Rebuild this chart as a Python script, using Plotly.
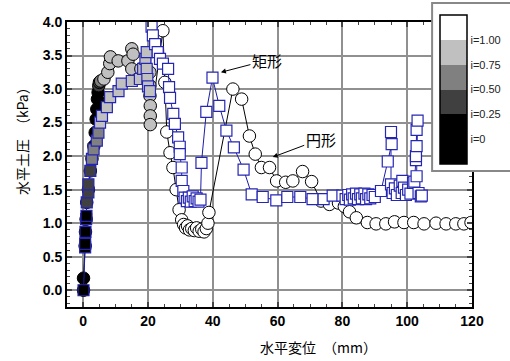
import plotly.graph_objects as go

# ---- 円形 (circle) series: x [mm], y [kPa], i (hydraulic gradient class) ----
circ_x = [0.1, 0.1, 0.6, 0.7, 0.9, 1.1, 1.6, 2.2, 2.7, 3.3, 3.7, 4.0, 4.2, 4.4, 4.6,
          4.8, 5.0,
          5.4,
          6.4, 7.6, 8.2, 8.4, 10.8, 13.8, 15.0, 15.4, 15.0, 17.8, 20.6, 20.6, 20.6,
          20.7, 20.7, 20.7,
          24.6, 25.2, 25.8, 26.8, 27.7, 28.7, 29.6, 30.4, 31.0, 31.6, 32.2, 32.8,
          33.5, 34.3, 35.0, 35.8, 36.6, 37.3, 38.0, 38.5, 38.8,
          46.2, 48.9, 51.3, 53.1, 55.0, 57.5, 59.7, 62.5, 64.7, 67.7, 70.5, 73.4,
          76.0, 78.8, 80.6, 82.2, 84.3, 87.7, 90.4, 93.4, 96.1, 99.0, 102.0, 105.2,
          108.9, 112.0, 115.0, 117.5, 119.7]
circ_y = [0.00, 0.18, 0.66, 0.87, 1.06, 1.31, 1.50, 1.78, 1.96, 2.15, 2.35, 2.55,
          2.70, 2.85, 2.95,
          3.05, 3.10,
          3.12,
          3.15, 3.25, 3.38, 3.48, 3.42, 3.42, 3.60, 3.52, 3.30, 3.30, 3.25, 3.05,
          2.90, 2.75, 2.60, 2.47,
          3.87, 3.10, 2.36, 2.05, 1.83, 1.50, 1.20, 1.05, 0.98, 0.93, 0.96, 0.90,
          0.92, 0.89, 0.93, 0.88, 0.91, 0.87, 0.92, 1.00, 1.16,
          3.00, 2.85, 2.30, 2.03, 1.83, 1.83, 1.63, 1.61, 1.63, 1.77, 1.62, 1.33,
          1.28, 1.30, 1.25, 1.17, 1.08, 1.01, 0.99, 0.99, 1.02, 1.01, 1.01, 0.99,
          1.00, 0.99, 0.99, 0.99, 1.01]
circ_i = [0.1] * 15 + [0.4] * 2 + [0.6] * 1 + [0.9] * 16 + [1.1] * 50

# ---- 矩形 (square) series ----
sq_x = [0.1, 0.6, 0.6, 0.7, 0.9, 1.0, 1.1, 1.6, 1.6, 2.2, 2.7, 3.2, 4.2, 4.7,
        5.2, 5.8, 7.3, 8.3, 10.9, 11.9, 15.0, 17.5, 18.5, 19.2, 19.6, 19.6, 19.8,
        20.0, 20.6, 21.1, 21.5, 22.2, 23.0, 23.7, 24.6, 26.2, 26.5, 26.8, 27.8,
        28.3, 29.3, 29.8, 29.8, 30.4, 30.4, 30.9, 31.3, 32.0, 32.6, 33.2, 33.8,
        34.4, 35.0, 35.6, 36.2, 36.5, 38.0, 39.9, 42.0, 44.2, 46.5, 49.5, 52.0,
        55.4, 59.6, 63.0, 67.0, 70.8, 74.2, 77.0, 80.0, 81.0, 81.8, 82.3, 83.0,
        83.5, 84.2, 84.8, 85.5, 86.0, 86.8, 87.3, 88.0, 88.6, 89.3, 90.0, 91.9,
        94.0, 95.2, 95.0, 95.0, 95.5, 96.2, 96.8, 97.7, 98.3, 98.5, 99.0, 99.6,
        100.3, 101.0, 101.8, 102.2, 102.7, 102.7, 102.9, 102.9, 103.2, 102.9,
        103.5, 104.2, 104.5]
sq_y = [0.00, 0.64, 0.69, 0.87, 1.06, 1.11, 1.31, 1.46, 1.58, 1.78, 1.96, 2.10,
        2.23, 2.35, 2.50, 2.60, 2.73, 2.88, 2.97, 3.08, 3.12, 3.15, 3.30, 3.45,
        3.55, 3.30, 3.15, 3.04, 2.97, 3.93, 3.80, 3.67, 3.55, 3.45, 3.38, 3.30,
        3.03, 2.87, 2.63, 2.48, 2.28, 2.14, 2.03, 1.83, 1.63, 1.48, 1.38, 1.33,
        1.38, 1.32, 1.40, 1.33, 1.37, 1.32, 1.35, 1.90, 2.66, 3.17, 2.75, 2.38,
        2.13, 1.80, 1.43, 1.39, 1.34, 1.39, 1.39, 1.36, 1.36, 1.41, 1.41, 1.36,
        1.42, 1.35, 1.43, 1.37, 1.44, 1.36, 1.43, 1.37, 1.44, 1.36, 1.43, 1.37,
        1.42, 1.39, 1.48, 1.92, 2.18, 2.36, 1.58, 1.45, 1.52, 1.42, 1.56, 1.45,
        1.63, 1.53, 1.42, 1.50, 1.44, 1.60, 1.62, 1.94, 2.00, 2.15, 2.39, 2.53,
        1.70, 1.45, 1.40, 1.41]
sq_i = [0.1] * 6 + [0.4] * 4 + [0.6] * 4 + [0.9] * 15 + [1.1] * 83

# ---- legend (colour classes) ----
cls_vals = [1.0, 0.75, 0.5, 0.25, 0.0]
cls_text = ["i=1.00", "i=0.75", "i=0.50", "i=0.25", "i=0"]

x_ticks = [0, 20, 40, 60, 80, 100, 120]
y_ticks = [0.0, 0.5, 1.0, 1.5, 2.0, 2.5, 3.0, 3.5, 4.0]

W, H = 510, 361
L, R, T, B = 67, 37, 22, 54
pw, ph = W - L - R, H - T - B


def px(xp):
    return (xp - L) / pw


def py(yp):
    return (H - B - yp) / ph


cscale = [[0.0, "#000000"], [1 / 3, "#000000"], [1 / 3, "#404040"], [0.5, "#404040"],
          [0.5, "#808080"], [2 / 3, "#808080"], [2 / 3, "#c0c0c0"], [5 / 6, "#c0c0c0"],
          [5 / 6, "#ffffff"], [1.0, "#ffffff"]]

fig = go.Figure()
fig.add_trace(go.Scatter(
    x=circ_x, y=circ_y, mode="lines+markers", name="円形",
    line=dict(color="black", width=1),
    marker=dict(symbol="circle", size=12.5, color=circ_i, coloraxis="coloraxis",
                line=dict(color="black", width=1)),
    showlegend=False))
fig.add_trace(go.Scatter(
    x=sq_x, y=sq_y, mode="lines+markers", name="矩形",
    line=dict(color="#1c1ca8", width=1),
    marker=dict(symbol="square", size=11, color=sq_i, coloraxis="coloraxis",
                line=dict(color="#2626b4", width=1.2)),
    showlegend=False))

tickfont = dict(family="Liberation Sans, Arial", size=14, color="black", weight="bold")
fig.update_xaxes(range=[-5, 120], tickvals=x_ticks, ticks="inside", ticklen=5, tickwidth=1.5,
                 minor=dict(dtick=5, ticks="inside", ticklen=3, tickwidth=1.2, showgrid=False),
                 showline=True, linecolor="black", linewidth=2, mirror="ticks",
                 showgrid=True, gridcolor="#909090", gridwidth=1.5, zeroline=False,
                 tickfont=tickfont)
fig.update_yaxes(range=[-0.25, 4.0], tickvals=y_ticks, tickformat=".1f", ticks="inside",
                 ticklen=5, tickwidth=1.5,
                 minor=dict(dtick=0.1, ticks="inside", ticklen=3, tickwidth=1.2, showgrid=False),
                 showline=True, linecolor="black", linewidth=2, mirror="ticks",
                 showgrid=True, gridcolor="#909090", gridwidth=1.5, zeroline=False,
                 tickfont=tickfont)

jp = "Noto Sans CJK JP"
fig.update_layout(
    width=W, height=H, margin=dict(l=L, r=R, t=T, b=B),
    paper_bgcolor="white", plot_bgcolor="white",
    coloraxis=dict(colorscale=cscale, cmin=-0.25, cmax=1.25,
                   colorbar=dict(x=px(440), xanchor="left", y=py(15), yanchor="top",
                                 lenmode="pixels", len=149, thickness=27,
                                 xpad=0, ypad=0, outlinecolor="black", outlinewidth=1.5,
                                 bgcolor="rgba(0,0,0,0)", borderwidth=0,
                                 tickvals=cls_vals, ticktext=cls_text, ticks="",
                                 tickfont=dict(family="Liberation Sans, Arial", size=11,
                                               color="#222"))),
    shapes=[dict(type="rect", xref="paper", yref="paper", layer="above",
                 x0=px(433), x1=px(522), y0=py(171), y1=py(3),
                 line=dict(color="#888888", width=2), fillcolor="white")],
    annotations=[
        dict(text="水平変位　（mm）", xref="paper", yref="paper", x=px(319), y=py(347),
             xanchor="center", yanchor="middle",
             showarrow=False, font=dict(family=jp, size=14, color="black")),
        dict(text="水平土圧　（kPa）", xref="paper", yref="paper", x=px(22), y=py(138),
             xanchor="center", yanchor="middle",
             textangle=-90, showarrow=False, font=dict(family=jp, size=14, color="black")),
        dict(text="矩形", x=42.5, y=3.25, xref="x", yref="y", ax=46, ay=-12,
             showarrow=True, arrowhead=2, arrowsize=1, arrowwidth=1, arrowcolor="black",
             font=dict(family=jp, size=15, color="black")),
        dict(text="円形", x=58.5, y=1.985, xref="x", yref="y", ax=48, ay=-18,
             showarrow=True, arrowhead=2, arrowsize=1, arrowwidth=1, arrowcolor="black",
             font=dict(family=jp, size=15, color="black")),
    ],
)

fig.write_html("out.html")
